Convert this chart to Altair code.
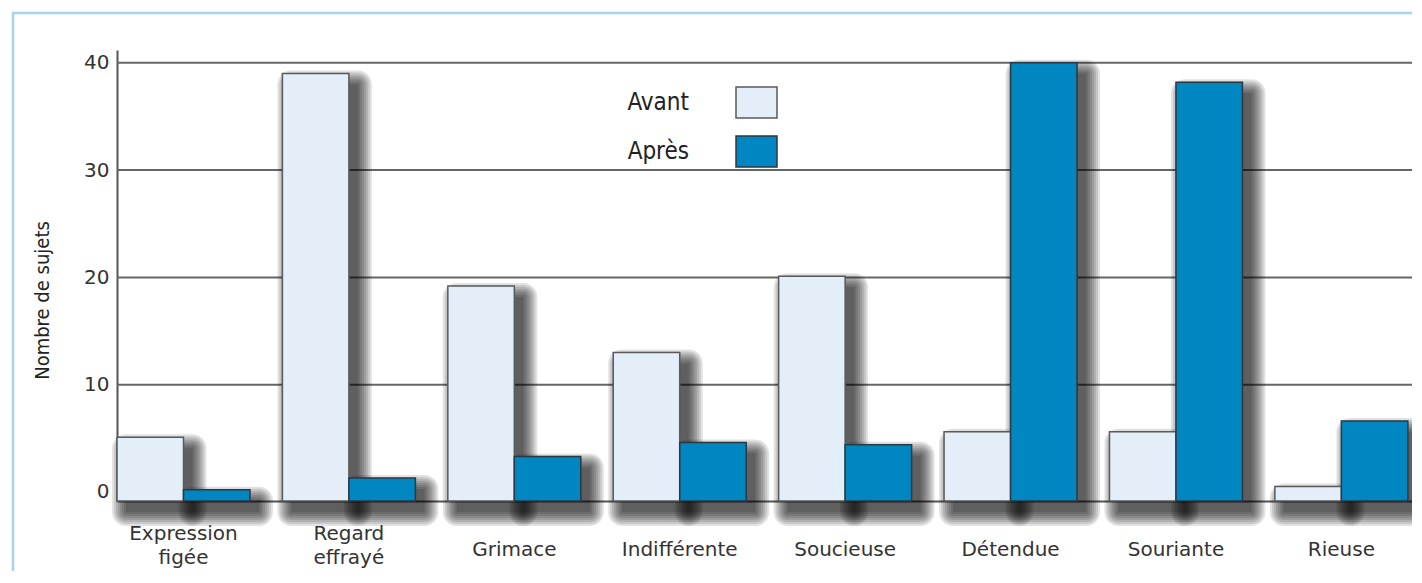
import altair as alt
import pandas as pd

CATEGORIES = ["Expression figée", "Regard effrayé", "Grimace", "Indifférente",
              "Soucieuse", "Détendue", "Souriante", "Rieuse"]
SERIES = ["Avant", "Après"]
AVANT = [5.1, 39, 19.2, 13, 20.1, 5.6, 5.6, 0.5]
APRES = [0.2, 1.3, 3.3, 4.6, 4.4, 40, 38.2, 6.6]
Y_TICKS = [0, 10, 20, 30, 40]
GRID = [10, 20, 30, 40]
Y_MIN, Y_MAX = -0.85, 41.2
COLORS = ["#e3eef8", "#0086c0"]
STROKES = ["#5a5a5a", "#2a3a44"]

NARROW = "Liberation Sans Narrow, DejaVu Sans Condensed, Roboto Condensed, Roboto, sans-serif"

rows = []
for i, c in enumerate(CATEGORIES):
    rows.append({"cat": c, "serie": "Avant", "val": AVANT[i]})
    rows.append({"cat": c, "serie": "Après", "val": APRES[i]})
df = pd.DataFrame(rows)
grid_df = pd.DataFrame({"val": GRID})

W, H = 1295, 451
BAR_W = 66.5

y_scale = alt.Scale(domain=[Y_MIN, Y_MAX], nice=False, zero=False)
y_axis = alt.Axis(values=Y_TICKS, grid=False, ticks=False, domain=True,
                  domainColor="#555555", domainWidth=2,
                  labelFont="DejaVu Sans", labelFontSize=20, labelColor="#333333",
                  labelPadding=8, title="Nombre de sujets",
                  titleFont=NARROW, titleFontSize=20,
                  titleFontWeight="normal", titleColor="#222222",
                  titleX=-75, titleY=250, titleAlign="center", titleBaseline="middle",
                  titleAngle=270)
x_axis = alt.Axis(title=None, ticks=False, domain=True, domainColor="#555555",
                  domainWidth=2, labelAngle=0, labelFont="DejaVu Sans",
                  labelFontSize=20, labelColor="#333333",
                  labelPadding={"condition": {"test": "indexof(datum.value, ' ') >= 0",
                                              "value": 32}, "value": 48},
                  labelBaseline="middle", labelLineHeight=24,
                  labelExpr="split(datum.label, ' ')")

x_scale = alt.Scale(paddingInner=0.196, paddingOuter=0.0125, align=0)
x_enc = alt.X("cat:N", sort=CATEGORIES, scale=x_scale, axis=x_axis)
xo_enc = alt.XOffset("serie:N", sort=SERIES,
                     scale=alt.Scale(paddingInner=0, paddingOuter=0))
y_enc = alt.Y("val:Q", scale=y_scale, axis=y_axis)

base = alt.Chart(df).encode(x=x_enc, xOffset=xo_enc, y=y_enc, y2=alt.datum(Y_MIN))

grid = alt.Chart(grid_df).mark_rule(color="#666666", strokeWidth=2).encode(
    y=alt.Y("val:Q", scale=y_scale, axis=y_axis))

frame = alt.Chart(pd.DataFrame({"a": [0]})).mark_rect(
    filled=False, stroke="#a9d3ea", strokeWidth=2.5).encode(
    x=alt.value(-104), x2=alt.value(W + 60), y=alt.value(-37), y2=alt.value(H + 150))

DX, DY = 9, 11
shadows = []
for s_i, s in enumerate(SERIES):
    sub_shift = (-0.5 if s_i == 0 else 0.5) * BAR_W
    sbase = alt.Chart(df).transform_filter(alt.datum.serie == s).encode(
        x=x_enc, y=y_enc, y2=alt.datum(Y_MIN))
    for k in range(0, 16, 2):
        shadows.append(sbase.mark_bar(color="black", opacity=0.115, width=BAR_W + 2 * k,
                                      xOffset=sub_shift + DX, yOffset=DY - k,
                                      y2Offset=DY + k, cornerRadius=k))

bars = base.mark_bar(strokeWidth=1.5).encode(
    fill=alt.Fill("serie:N", sort=SERIES,
                  scale=alt.Scale(domain=SERIES, range=COLORS),
                  legend=alt.Legend(title=None, orient="none", legendX=618, legendY=31,
                                    direction="vertical",
                                    symbolType="M-1,-0.756H1V0.756H-1Z",
                                    symbolSize=1681, symbolStrokeColor="#555555",
                                    symbolStrokeWidth=1.5, symbolOpacity=1,
                                    labelAlign="right", labelOffset={"expr": "-89"},
                                    labelFont=NARROW,
                                    labelFontSize=24, labelColor="#222222",
                                    rowPadding=9)),
    stroke=alt.Stroke("serie:N", sort=SERIES,
                      scale=alt.Scale(domain=SERIES, range=STROKES), legend=None),
)

chart = alt.layer(frame, grid, *shadows, bars).properties(
    width=W, height=H,
    padding={"left": 109, "top": 42, "right": 0, "bottom": 70},
    autosize=alt.AutoSizeParams(type="none"),
    background="white",
).configure_view(stroke=None)

chart.save("out.html", embed_options={"renderer": "svg", "actions": False})
